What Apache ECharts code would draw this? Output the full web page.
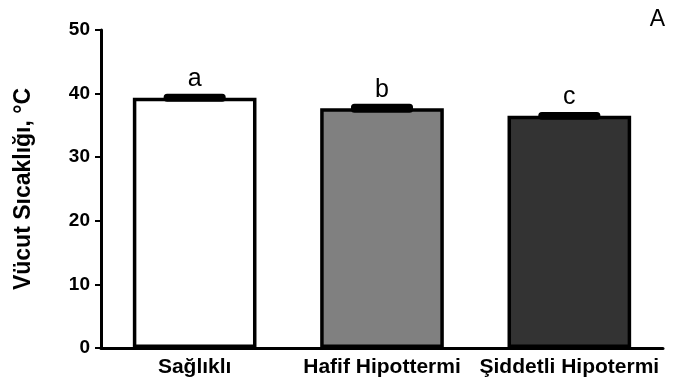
<!DOCTYPE html>
<html>
<head>
<meta charset="utf-8">
<script src="https://cdn.jsdelivr.net/npm/echarts@6/dist/echarts.min.js"></script>
<style>
  html, body { margin: 0; padding: 0; background: #fff; }
  #chart { width: 675px; height: 392px; }
</style>
</head>
<body>
<div id="chart"></div>
<script>
// Body temperature by group (mean ± SEM)
const categories = ['Sağlıklı', 'Hafif Hipottermi', 'Şiddetli Hipotermi'];
const meanTemp = [39.35, 37.7, 36.5];
const semTemp = [0.3, 0.4, 0.3];
const groupLetters = ['a', 'b', 'c'];
const barColors = ['#ffffff', '#808080', '#333333'];
const yTicks = [0, 10, 20, 30, 40, 50];

const FONT = '"Liberation Sans", Arial, Helvetica, sans-serif';

const chart = echarts.init(document.getElementById('chart'), null, { renderer: 'canvas' });

chart.setOption({
  animation: false,
  backgroundColor: '#ffffff',
  grid: { left: 101, right: 12, top: 30, bottom: 44, containLabel: false },
  title: {
    text: 'A', right: 5, top: 3,
    textStyle: { fontFamily: FONT, fontSize: 23, fontWeight: 'normal', color: '#000' }
  },
  xAxis: {
    type: 'category',
    data: categories,
    axisLine: { lineStyle: { color: '#000', width: 3 } },
    axisTick: { alignWithLabel: true, length: 6, lineStyle: { color: '#000', width: 2 } },
    axisLabel: {
      interval: 0, hideOverlap: false,
      fontFamily: FONT, fontSize: 21, fontWeight: 'bold', color: '#000', margin: 9
    }
  },
  yAxis: {
    type: 'value',
    min: yTicks[0], max: yTicks[yTicks.length - 1], interval: 10,
    name: 'Vücut Sıcaklığı, °C',
    nameLocation: 'middle', nameGap: 66, nameRotate: 90,
    nameTextStyle: { fontFamily: FONT, fontSize: 23, fontWeight: 'bold', color: '#000' },
    axisLine: { show: true, lineStyle: { color: '#000', width: 3 } },
    axisTick: { show: true, length: 6, lineStyle: { color: '#000', width: 2 } },
    splitLine: { show: false },
    axisLabel: { fontFamily: FONT, fontSize: 19, fontWeight: 'bold', color: '#000', margin: 11 }
  },
  series: [
    {
      type: 'bar',
      barWidth: '66%',
      data: meanTemp.map((v, i) => ({
        value: v,
        itemStyle: { color: barColors[i], borderColor: '#000', borderWidth: 3.5 }
      })),
      label: {
        show: true, position: 'top', distance: 6,
        formatter: p => groupLetters[p.dataIndex],
        fontFamily: FONT, fontSize: 25, color: '#000'
      },
      z: 2
    },
    {
      type: 'custom',
      data: meanTemp.map((v, i) => [i, v, semTemp[i]]),
      renderItem: (params, api) => {
        const lo = api.coord([api.value(0), api.value(1) - api.value(2)]);
        const hi = api.coord([api.value(0), api.value(1) + api.value(2)]);
        const capW = api.size([1, 0])[0] * 0.31;
        return {
          type: 'rect',
          shape: { x: lo[0] - capW / 2, y: hi[1], width: capW, height: lo[1] - hi[1], r: 1.5 },
          style: { fill: '#000', stroke: '#000', lineWidth: 4, lineJoin: 'round' }
        };
      },
      z: 3
    }
  ]
});
</script>
</body>
</html>
